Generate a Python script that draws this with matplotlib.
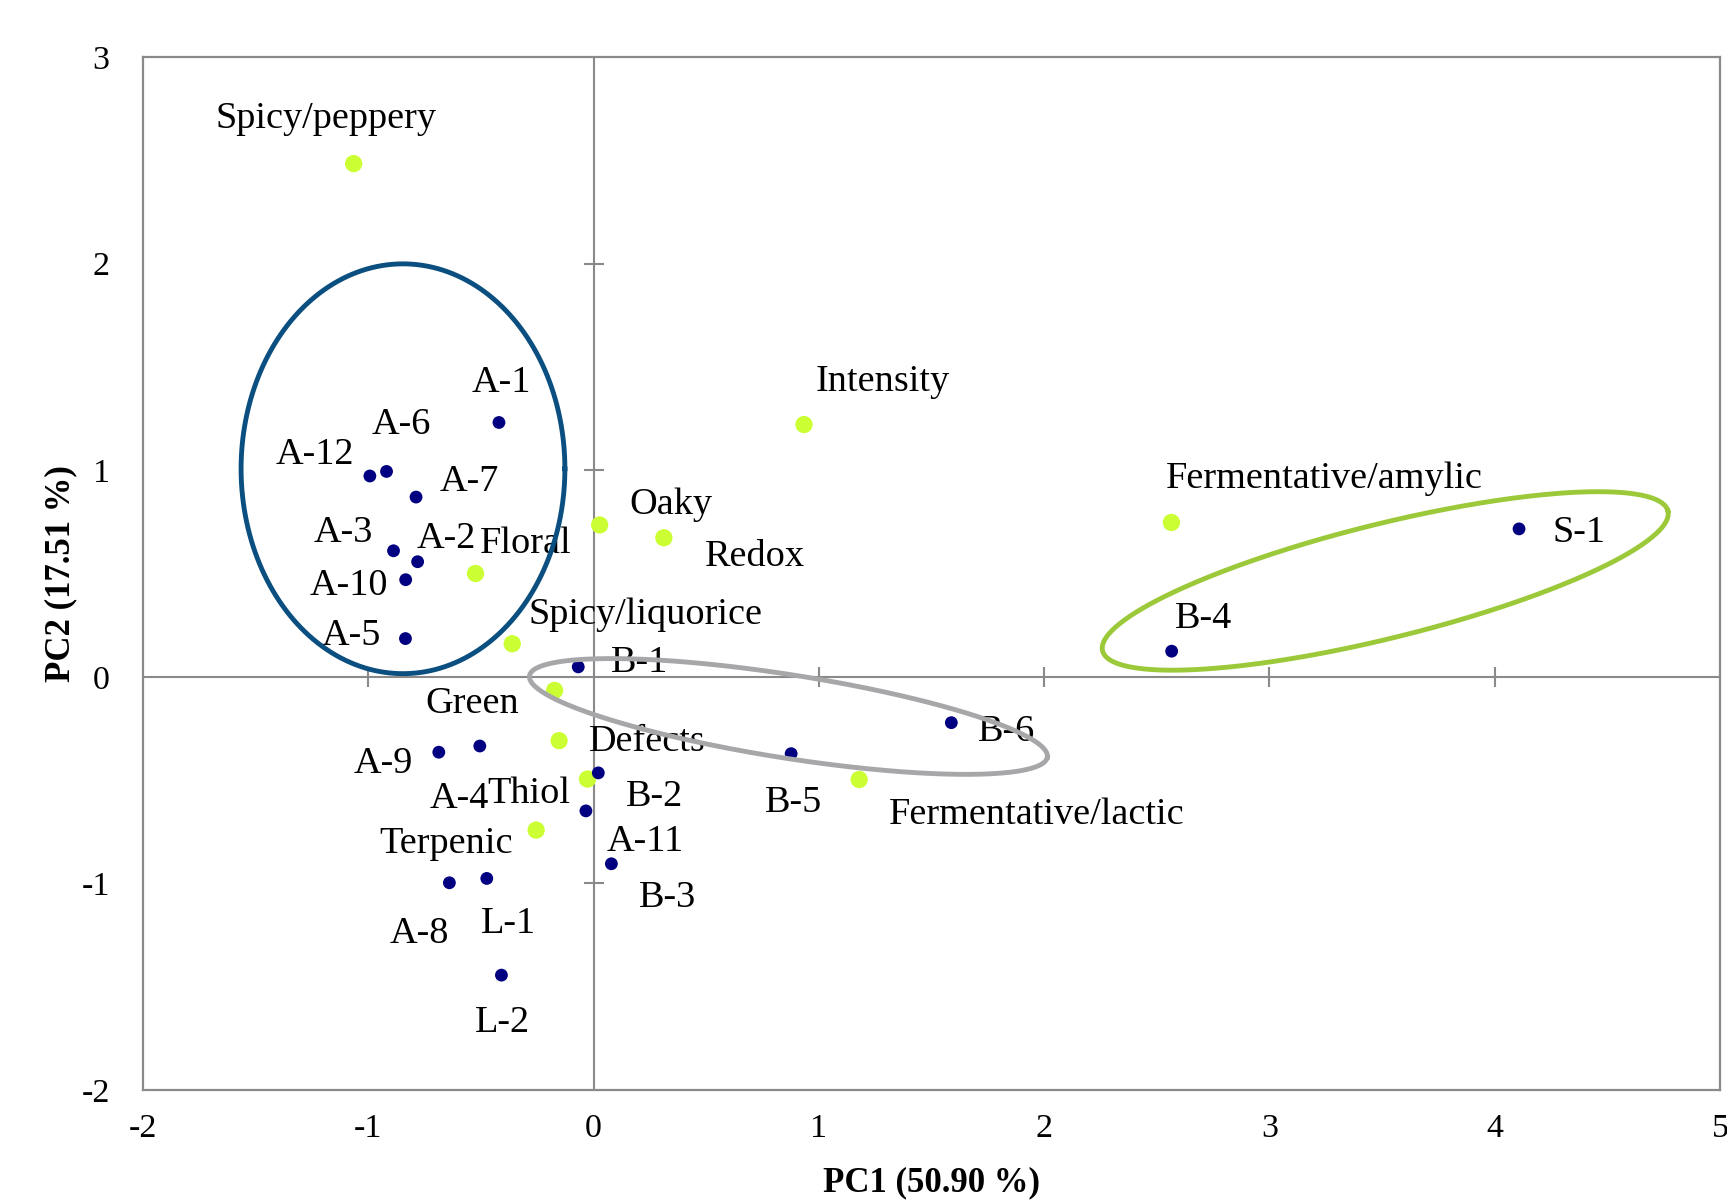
#Import libraries
import numpy as np #array operations
import matplotlib
matplotlib.use('Agg')
import matplotlib.pyplot as plt #plots
#/Import libraries

#Data: attributes (loadings)#
attr_names=['Spicy/peppery','Intensity','Fermentative/amylic','Oaky','Redox','Floral',
            'Spicy/liquorice','Green','Defects','Thiol','Terpenic','Fermentative/lactic']
attr_pc1=[-1.065,0.934,2.565,0.027,0.312,-0.524,-0.361,-0.173,-0.153,-0.027,-0.255,1.179]
attr_pc2=[2.484,1.221,0.747,0.735,0.673,0.500,0.160,-0.066,-0.309,-0.495,-0.742,-0.497]
#Data: samples (scores)#
smp_names=['A-1','A-6','A-12','A-7','A-3','A-2','A-10','A-5','B-1','A-9','A-4',
           'B-2','A-11','B-3','A-8','L-1','L-2','B-5','B-6','B-4','S-1']
smp_pc1=[-0.420,-0.919,-0.993,-0.788,-0.888,-0.781,-0.834,-0.835,-0.068,-0.687,-0.505,
         0.021,-0.034,0.079,-0.640,-0.474,-0.409,0.877,1.588,2.566,4.108]
smp_pc2=[1.231,0.994,0.972,0.870,0.610,0.557,0.470,0.185,0.048,-0.365,-0.335,
         -0.465,-0.649,-0.905,-0.997,-0.976,-1.444,-0.372,-0.222,0.124,0.716]
x_ticks=[-2,-1,0,1,2,3,4,5]
y_ticks=[-2,-1,0,1,2,3]
x_label='PC1 (50.90 %)'
y_label='PC2 (17.51 %)'
#/Data#

#Layout: label offsets (points) and alignment#
attr_off=[(-19.8,34.9,'center'),(8.7,33.3,'left'),(-4.0,34.1,'left'),(21.4,17.4,'left'),
          (29.3,-11.1,'left'),(3.2,23.8,'left'),(11.9,23.8,'left'),(-25.4,-7.1,'right'),
          (21.4,1.6,'left'),(-12.7,-7.9,'right'),(-16.7,-7.1,'right'),(21.4,-23.0,'left')]
smp_off=[(1.6,30.9,'center'),(10.3,36.5,'center'),(-11.1,18.2,'right'),(16.7,13.5,'left'),
         (-15.1,15.9,'right'),(-0.8,19.0,'left'),(-12.7,-1.6,'right'),(-17.4,4.8,'right'),
         (23.8,5.6,'left'),(-19.0,-5.6,'right'),(6.3,-35.7,'right'),(19.8,-14.3,'left'),
         (15.1,-19.8,'left'),(19.8,-22.2,'left'),(0.0,-34.1,'right'),(-4.0,-30.1,'left'),
         (0.8,-31.7,'center'),(1.6,-32.5,'center'),(19.0,-4.0,'left'),(2.4,26.2,'left'),
         (23.8,0.0,'left')]
dy_fix=-2.6 #labels sit a little lower than the text box centre
#ellipses: centre (data), half axes (px), angle (deg), colour
ellipses=[((-0.846,1.007),161.9,204.9,0.0,'#0b4f80'),
          ((0.865,-0.192),262.1,41.7,-8.93,'#a7a7aa'),
          ((3.514,0.464),291.2,57.1,13.9,'#9cc93a')]
#/Layout#

plt.rcParams['font.family']=['Liberation Serif','DejaVu Serif']
plt.rcParams['axes.unicode_minus']=False
frame_col='#8a8a8a'

fig=plt.figure(figsize=(17.27,12.02),dpi=100)
ax=fig.add_axes([143/1727,1-1090/1202,(1720-143)/1727,(1090-57)/1202])
ax.set_xlim(x_ticks[0],x_ticks[-1]);ax.set_ylim(y_ticks[0],y_ticks[-1])
ax.set_xticks(x_ticks);ax.set_yticks(y_ticks)
ax.tick_params(axis='both',length=0,labelsize=24.5)
ax.tick_params(axis='x',pad=17);ax.tick_params(axis='y',pad=24)
for s in ax.spines.values():
  s.set_color(frame_col);s.set_linewidth(1.6)
ax.set_xlabel(x_label,fontsize=25,fontweight='bold',labelpad=16)
ax.set_ylabel(y_label,fontsize=25,fontweight='bold',labelpad=3)

#Centre axes with crossing ticks#
ax.axhline(0,color=frame_col,lw=1.5,zorder=1)
ax.axvline(0,color=frame_col,lw=1.5,zorder=1)
xt=[t for t in x_ticks[1:-1] if t!=0]
yt=[t for t in y_ticks[1:-1] if t!=0]
ax.plot(xt,[0]*len(xt),ls='none',marker='|',ms=14.4,mew=1.5,color=frame_col,zorder=1)
ax.plot([0]*len(yt),yt,ls='none',marker='_',ms=14.4,mew=1.5,color=frame_col,zorder=1)
#/Centre axes#

#Points#
ax.scatter(attr_pc1,attr_pc2,s=155,color='#ccff33',edgecolors='none',zorder=3)
ax.scatter(smp_pc1,smp_pc2,s=85,color='#000080',edgecolors='none',zorder=3)
for n,x,y,(dx,dy,ha) in zip(attr_names,attr_pc1,attr_pc2,attr_off):
  ax.annotate(n,(x,y),xytext=(dx,dy+dy_fix),textcoords='offset points',ha=ha,va='center',fontsize=27.5,zorder=2)
for n,x,y,(dx,dy,ha) in zip(smp_names,smp_pc1,smp_pc2,smp_off):
  ax.annotate(n,(x,y),xytext=(dx,dy+dy_fix),textcoords='offset points',ha=ha,va='center',fontsize=27.5,zorder=2)
#/Points#

#Group ellipses#
t=np.linspace(0,2*np.pi,400)
for (cx,cy),a,b,ang,col in ellipses:
  c=ax.transData.transform((cx,cy));th=np.radians(ang)
  px=c[0]+a*np.cos(t)*np.cos(th)-b*np.sin(t)*np.sin(th)
  py=c[1]+a*np.cos(t)*np.sin(th)+b*np.sin(t)*np.cos(th)
  pts=ax.transData.inverted().transform(np.column_stack([px,py]))
  ax.plot(pts[:,0],pts[:,1],color=col,lw=3.5,zorder=4)
#/Group ellipses#

fig.savefig('out.png',dpi=100)
print('Finished!')
